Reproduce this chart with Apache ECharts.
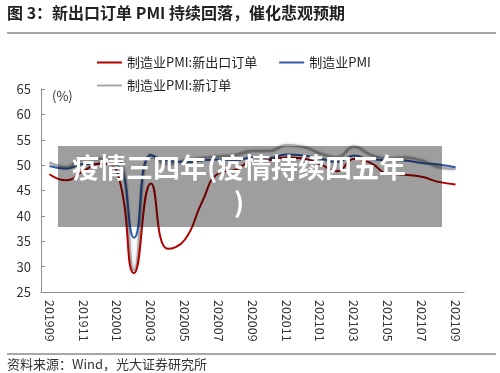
<!DOCTYPE html>
<html>
<head>
<meta charset="utf-8">
<script src="https://cdn.jsdelivr.net/npm/echarts@6/dist/echarts.min.js"></script>
<style>html,body{margin:0;padding:0;background:#fff}#c{width:500px;height:373px}</style>
</head>
<body>
<div id="c"></div>
<script>
var categories = ['201909','201910','201911','201912','202001','202002','202003','202004','202005','202006','202007','202008','202009','202010','202011','202012','202101','202102','202103','202104','202105','202106','202107','202108','202109'];
var exportOrders = [48.2,47.0,48.8,50.3,48.7,28.7,46.4,33.5,35.3,42.6,48.4,49.1,50.8,51.0,51.5,51.3,50.2,48.8,51.2,50.4,48.3,48.1,47.7,46.7,46.2];
var pmi = [49.8,49.3,50.2,50.2,50.0,35.7,52.0,50.8,50.6,50.9,51.1,51.0,51.5,51.4,52.1,51.9,51.3,50.6,51.9,51.1,51.0,50.9,50.4,50.1,49.6];
var newOrders = [50.5,49.6,51.3,51.2,51.4,29.3,52.0,50.2,50.9,51.4,51.7,52.0,52.8,52.8,53.9,53.6,52.3,51.5,53.6,52.0,51.3,51.5,50.9,49.6,49.3];
var yTicks = [25,30,35,40,45,50,55,60,65];
var seriesNames = ['制造业PMI:新出口订单','制造业PMI','制造业PMI:新订单'];
var titleText = '图 3：新出口订单 PMI 持续回落，催化悲观预期';
var sourceText = '资料来源：Wind，光大证券研究所';
var unitText = '(%)';
var overlayText = '疫情三四年(疫情持续四五年\n)';

var FONT = '"Noto Sans CJK SC","Noto Sans",sans-serif';
var chart = echarts.init(document.getElementById('c'), null, {renderer:'canvas'});
chart.setOption({
  animation:false,
  backgroundColor:'#fff',
  textStyle:{fontFamily:FONT},
  grid:{left:41,right:36,top:89,bottom:81,containLabel:false},
  legend:[{
    data:[seriesNames[0],seriesNames[1]],
    left:97, top:56, padding:0, itemWidth:25, itemHeight:2, itemGap:22, icon:'rect',
    textStyle:{fontSize:13,color:'#222',fontFamily:FONT}
  },{
    data:[seriesNames[2]],
    left:97, top:79, padding:0, itemWidth:25, itemHeight:2, icon:'rect',
    textStyle:{fontSize:13,color:'#222',fontFamily:FONT}
  }],
  xAxis:{
    type:'category', data:categories, boundaryGap:true,
    axisLine:{lineStyle:{color:'#8c8c8c',width:1}},
    axisTick:{inside:true,length:4,interval:1,lineStyle:{color:'#8c8c8c'}},
    axisLabel:{interval:1,rotate:-90,margin:8,fontSize:12.5,color:'#333',fontFamily:FONT},
    splitLine:{show:false}
  },
  yAxis:{
    type:'value', min:yTicks[0], max:yTicks[yTicks.length-1], interval:5,
    axisLine:{show:true,lineStyle:{color:'#8c8c8c',width:1}},
    axisTick:{show:true,inside:true,length:4,lineStyle:{color:'#8c8c8c'}},
    axisLabel:{margin:10,fontSize:13,color:'#333',fontFamily:FONT},
    splitLine:{show:false}
  },
  series:[{
    name:seriesNames[0], type:'line', data:exportOrders, smooth:0.5, symbol:'none', z:4,
    itemStyle:{color:'#b00000'}, lineStyle:{color:'#b00000',width:2}
  },{
    name:seriesNames[1], type:'line', data:pmi, smooth:0.5, symbol:'none', z:3,
    itemStyle:{color:'#2f5ba8'}, lineStyle:{color:'#2f5ba8',width:2}
  },{
    name:seriesNames[2], type:'line', data:newOrders, smooth:0.5, symbol:'none', z:2,
    itemStyle:{color:'#a8a8a8'}, lineStyle:{color:'#a8a8a8',width:2.5,shadowBlur:3,shadowColor:'rgba(0,0,0,0.25)'}
  }],
  graphic:[
    {type:'text', left:7, top:5, style:{text:titleText, fontSize:16, fontWeight:'bold', fill:'#222', fontFamily:FONT}},
    {type:'line', shape:{x1:7,y1:33,x2:496,y2:33}, style:{stroke:'#8a8a8a',lineWidth:1.5}},
    {type:'text', x:52, y:96, style:{text:unitText, fontSize:13, fill:'#333', verticalAlign:'middle', fontFamily:FONT}},
    {type:'line', shape:{x1:7,y1:354,x2:496,y2:354}, style:{stroke:'#8a8a8a',lineWidth:1.5}},
    {type:'text', x:7, y:364, style:{text:sourceText, fontSize:13, fill:'#333', verticalAlign:'middle', fontFamily:FONT}},
    {type:'rect', shape:{x:58,y:146,width:384,height:81}, style:{fill:'rgba(0,0,0,0.38)'}, z:100},
    {type:'text', x:239, y:185, z:101, style:{text:overlayText, fontSize:27, fontWeight:'bold', fill:'#fff', align:'center', verticalAlign:'middle', lineHeight:35, fontFamily:FONT}}
  ]
});
</script>
</body>
</html>
